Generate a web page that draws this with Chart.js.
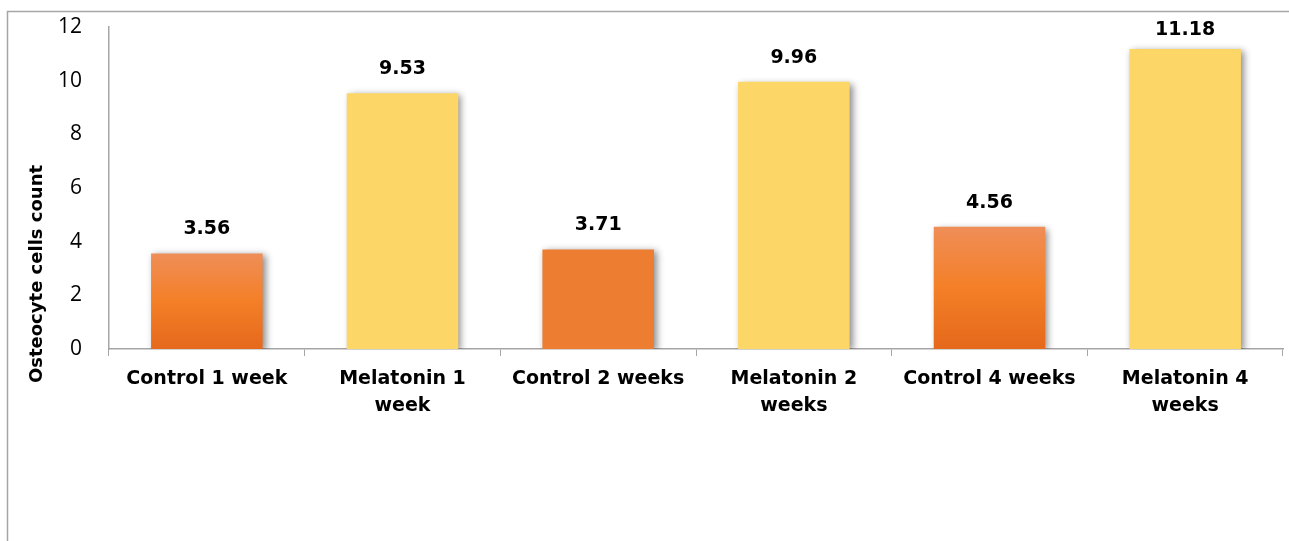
<!DOCTYPE html>
<html lang="en">
<head>
  <meta charset="UTF-8" />
  <title>Osteocyte cells count</title>
  <script src="https://cdn.jsdelivr.net/npm/chart.js"></script>
  <style>
    body { margin: 0; background: #fff; }
    #wrap { width: 1289px; height: 541px; position: relative; }
  </style>
</head>
<body>
  <div id="wrap"><canvas id="cellChart"></canvas></div>

  <script>
    const groups = [
      'Control 1 week',
      ['Melatonin 1', 'week'],
      'Control 2 weeks',
      ['Melatonin 2', 'weeks'],
      'Control 4 weeks',
      ['Melatonin 4', 'weeks']
    ];
    const cellCounts = [3.56, 9.53, 3.71, 9.96, 4.56, 11.18];
    const yTicks = [0, 2, 4, 6, 8, 10, 12];
    const yTitle = 'Osteocyte cells count';

    const boldFont = '"DejaVu Sans", Verdana, sans-serif';

    // control bars: orange (1 and 4 weeks with a soft vertical fade), melatonin bars: yellow
    function barColor(ctx) {
      const i = ctx.dataIndex;
      if (i % 2 === 1) return '#FDD668';
      if (i === 2) return '#ED7D31';
      const chart = ctx.chart;
      if (!chart.chartArea) return '#F07E2C';
      const y = chart.scales.y;
      const top = y.getPixelForValue(cellCounts[i]);
      const base = y.getPixelForValue(0);
      const g = chart.ctx.createLinearGradient(0, top, 0, base);
      g.addColorStop(0, '#EF8E58');
      g.addColorStop(0.5, '#F47F27');
      g.addColorStop(1, '#E5691C');
      return g;
    }

    const framePlugin = {
      id: 'frame',
      beforeDraw(chart) {
        const c = chart.ctx;
        c.save();
        c.strokeStyle = '#a6a6a6';
        c.lineWidth = 1.5;
        c.beginPath();
        c.moveTo(7.5, chart.height);
        c.lineTo(7.5, 11.5);
        c.lineTo(chart.width, 11.5);
        c.stroke();
        c.restore();
      }
    };

    const shadowPlugin = {
      id: 'barShadow',
      beforeDatasetsDraw(chart) {
        const c = chart.ctx;
        c.save();
        c.shadowColor = 'rgba(0,0,0,0.45)';
        c.shadowBlur = 7;
        c.shadowOffsetX = 3;
        c.shadowOffsetY = 2;
      },
      afterDatasetsDraw(chart) {
        chart.ctx.restore();
      }
    };

    const valueLabels = {
      id: 'valueLabels',
      afterDatasetsDraw(chart) {
        const c = chart.ctx;
        const meta = chart.getDatasetMeta(0);
        c.save();
        c.font = 'bold 19px ' + boldFont;
        c.fillStyle = '#000';
        c.textAlign = 'center';
        c.textBaseline = 'middle';
        meta.data.forEach((bar, i) => {
          // keep labels of tall bars inside the plot
          const ly = Math.max(bar.y - 24, chart.chartArea.top + 3);
          c.fillText(cellCounts[i].toFixed(2), bar.x, ly);
        });
        // rotated axis title
        c.translate(37, 274);
        c.rotate(-Math.PI / 2);
        c.font = 'bold 18px ' + boldFont;
        c.fillText(yTitle, 0, 0);
        c.restore();
      }
    };

    new Chart(document.getElementById('cellChart'), {
      type: 'bar',
      data: {
        labels: groups,
        datasets: [{
          data: cellCounts,
          backgroundColor: barColor,
          borderWidth: 0,
          barPercentage: 0.57,
          categoryPercentage: 1
        }]
      },
      plugins: [framePlugin, shadowPlugin, valueLabels],
      options: {
        responsive: true,
        maintainAspectRatio: false,
        animation: false,
        layout: { padding: { top: 27, right: 6, left: 0, bottom: 0 } },
        plugins: {
          legend: { display: false },
          tooltip: { enabled: false }
        },
        scales: {
          x: {
            afterFit(scale) { scale.height = 192; },
            grid: {
              offset: true,
              drawOnChartArea: false,
              drawTicks: true,
              tickLength: 7,
              color: '#a6a6a6'
            },
            border: { color: '#a6a6a6', width: 1.5 },
            ticks: {
              color: '#000',
              padding: 10,
              maxRotation: 0,
              autoSkip: false,
              font: { family: boldFont, size: 19, weight: 'bold', lineHeight: 1.4 }
            }
          },
          y: {
            min: 0,
            max: 12,
            afterFit(scale) {
              scale.width = 109;
              // tick padding is horizontal only; keep it out of the plot's top/bottom
              scale.paddingTop = 0;
              scale.paddingBottom = 0;
            },
            afterBuildTicks(scale) { scale.ticks = yTicks.map(v => ({ value: v })); },
            grid: { display: false, drawTicks: false },
            border: { color: '#a6a6a6', width: 1.5 },
            ticks: {
              color: '#000',
              padding: 27,
              font: { family: '"Open Sans", sans-serif', size: 21 }
            }
          }
        }
      }
    });
  </script>
</body>
</html>
